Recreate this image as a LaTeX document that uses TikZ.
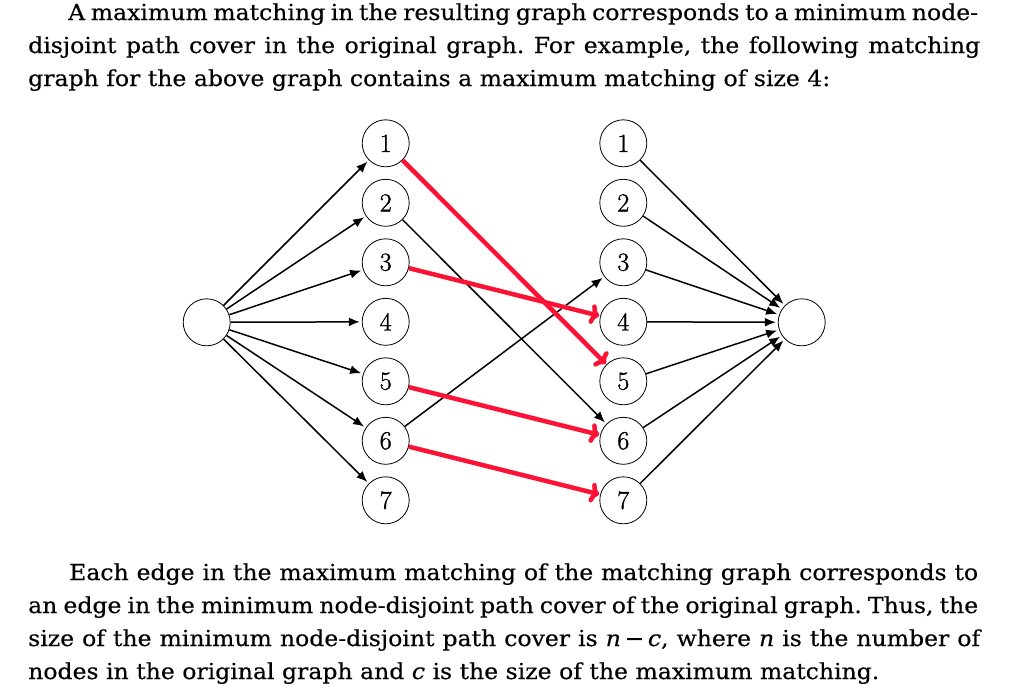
\documentclass[tikz,border=0pt]{standalone}
\usepackage{fontspec}
\setmainfont{DejaVu Serif}[FakeStretch=1.07,FakeBold=0.4]
\newfontfamily\digitfont{Latin Modern Roman}[FakeBold=1.2]
\usepackage{amsmath}
\usetikzlibrary{arrows.meta}
\definecolor{matchred}{RGB}{252,18,52}
\frenchspacing

\begin{document}
\begin{tikzpicture}[x=1pt,y=-1pt,
    vertex/.style={draw,circle,line width=0.8pt,minimum size=47pt,inner sep=0pt,
      font=\digitfont\fontsize{26}{26}\selectfont},
    edge/.style={line width=1.5pt,-{Latex[length=11pt,width=9pt]},shorten >=2pt},
    match/.style={line width=4.5pt,matchred,-{To[length=9pt,width=20pt]},shorten >=1pt},
    txt/.style={anchor=base west,inner sep=0pt,font=\fontsize{22}{24}\selectfont}]
        \useasboundingbox (0,0) rectangle (1016,696);

        % Texte du haut
        \node[txt] (t1) at (68,20) {\makebox[910pt][s]{A maximum matching in the resulting graph corresponds to a minimum node-}};
        \node[txt] (t2) at (28,53) {\makebox[952pt][s]{disjoint path cover in the original graph. For example, the following matching}};
        \node[txt] (t3) at (28,86) {graph for the above graph contains a maximum matching of size 4:};

        % Sommets
        \node[vertex] (s) at (206.7,322.3) {};
        \node[vertex] (t) at (801.7,322.3) {};
        \foreach \i in {1,...,7} {
            \node[vertex] (l\i) at (385.7,{143.3+(\i-1)*59.5}) {\i};
            \node[vertex] (r\i) at (623.3,{143.3+(\i-1)*59.5}) {\i};
        }

        % Aretes
        \foreach \i in {1,...,7} {
            \draw[edge] (s) -- (l\i);
            \draw[edge] (r\i) -- (t);
        }
        \draw[edge] (l2) -- (r6);
        \draw[edge] (l6) -- (r3);

        % Couplage maximum
        \draw[match] (l1) -- (r5);
        \draw[match] (l3) -- (r4);
        \draw[match] (l5) -- (r6);
        \draw[match] (l6) -- (r7);

        % Texte du bas
        \node[txt] (b1) at (69,580) {\makebox[909pt][s]{Each edge in the maximum matching of the matching graph corresponds to}};
        \node[txt] (b2) at (28,613) {\makebox[950pt][s]{an edge in the minimum node-disjoint path cover of the original graph. Thus, the}};
        \node[txt] (b3) at (28,646) {\makebox[952pt][s]{size of the minimum node-disjoint path cover is \textit{n}\,−\,\textit{c}, where \textit{n} is the number of}};
        \node[txt] (b4) at (28,679) {nodes in the original graph and \textit{c} is the size of the maximum matching.};
    \end{tikzpicture}
\end{document}
